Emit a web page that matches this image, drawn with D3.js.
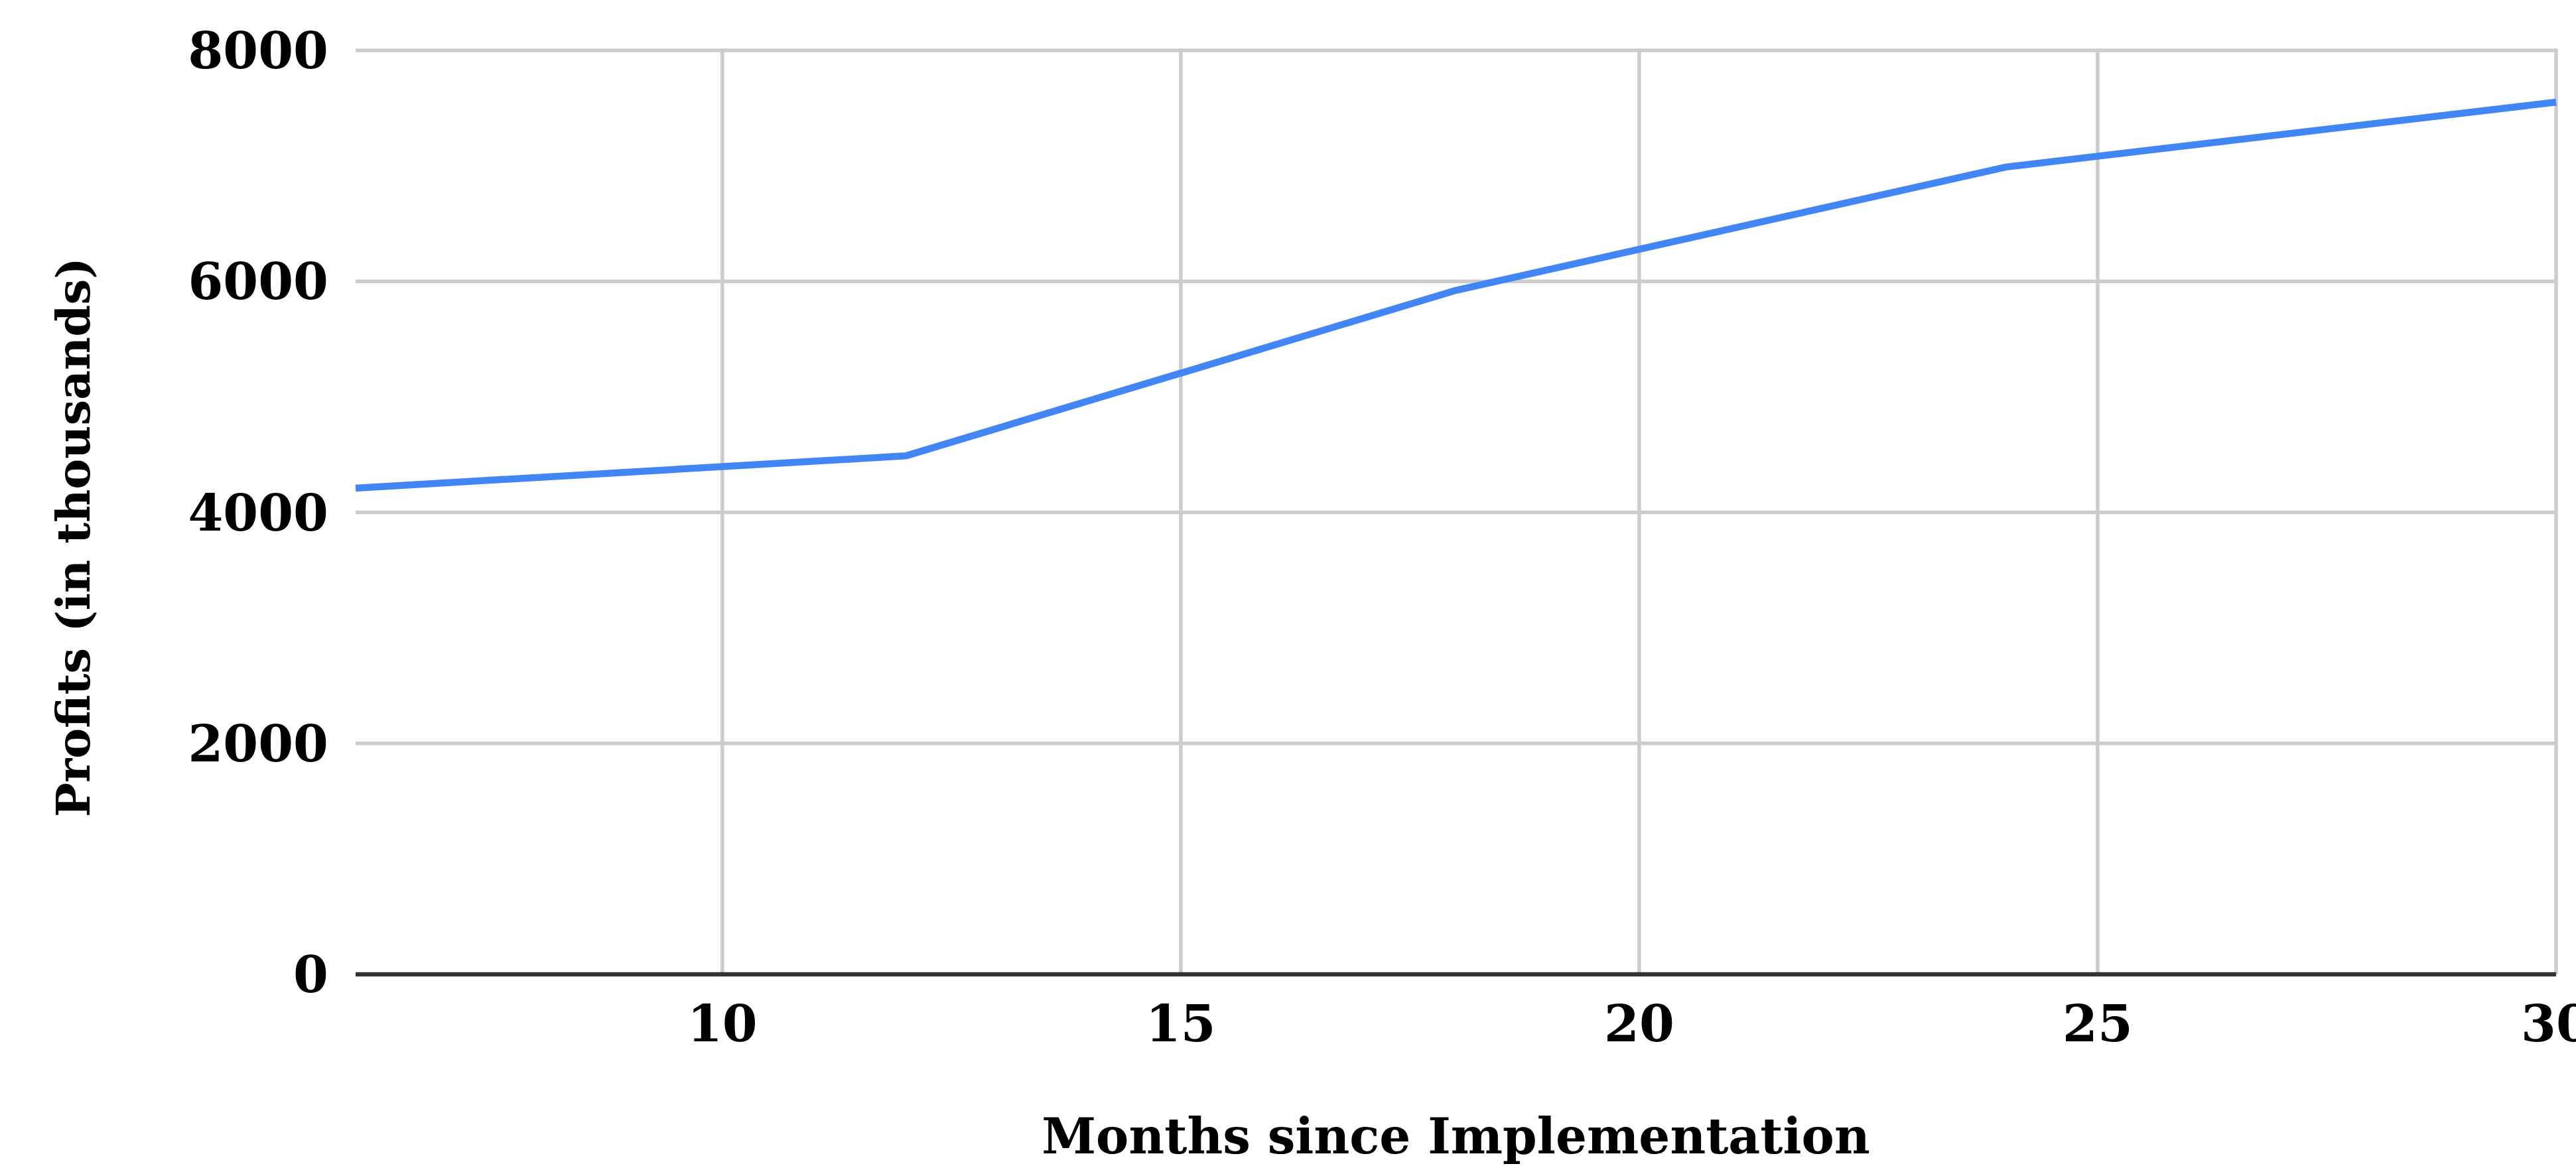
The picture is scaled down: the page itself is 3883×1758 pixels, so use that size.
<!DOCTYPE html>
<html>
<head>
<meta charset="utf-8">
<script src="https://cdn.jsdelivr.net/npm/d3@7"></script>
<style>
  html, body { margin: 0; padding: 0; background: #ffffff; }
  svg { display: block; }
  text { font-family: "DejaVu Serif", "Liberation Serif", serif; font-weight: bold; fill: #000; }
</style>
</head>
<body>
<script>
// Profit trend after implementation
const months = [6, 12, 18, 24, 30];
const profits = [4210, 4489, 5922, 6990, 7552];
const xTicks = [10, 15, 20, 25, 30];
const yTicks = [0, 2000, 4000, 6000, 8000];
const xTitle = "Months since Implementation";
const yTitle = "Profits (in thousands)";

const W = 3883, H = 1758;
const margin = { left: 536, right: 30, top: 76, bottom: 289 };

const svg = d3.select("body").append("svg")
  .attr("width", W).attr("height", H);

svg.append("rect").attr("width", W).attr("height", H).attr("fill", "#fff");

const x = d3.scaleLinear().domain([6, 30]).range([margin.left, W - margin.right]);
const y = d3.scaleLinear().domain([0, 8000]).range([H - margin.bottom, margin.top]);

// horizontal gridlines
svg.append("g")
  .selectAll("line")
  .data(yTicks.filter(d => d > 0))
  .join("line")
  .attr("x1", x.range()[0]).attr("x2", x.range()[1])
  .attr("y1", d => y(d)).attr("y2", d => y(d))
  .attr("stroke", "#cccccc").attr("stroke-width", 5.5);

// vertical gridlines
svg.append("g")
  .selectAll("line")
  .data(xTicks)
  .join("line")
  .attr("x1", d => x(d)).attr("x2", d => x(d))
  .attr("y1", y(8000) - 2.75).attr("y2", y(0))
  .attr("stroke", "#cccccc").attr("stroke-width", 5.5);

// baseline
svg.append("line")
  .attr("x1", x.range()[0]).attr("x2", x.range()[1])
  .attr("y1", y(0)).attr("y2", y(0))
  .attr("stroke", "#333333").attr("stroke-width", 6.5);

// y tick labels
svg.append("g")
  .selectAll("text")
  .data(yTicks)
  .join("text")
  .attr("x", 495)
  .attr("y", d => y(d) + 27)
  .attr("text-anchor", "end")
  .attr("font-size", 76)
  .text(d => d);

// x tick labels
svg.append("g")
  .selectAll("text")
  .data(xTicks)
  .join("text")
  .attr("x", d => x(d))
  .attr("y", 1570)
  .attr("text-anchor", "middle")
  .attr("font-size", 76)
  .text(d => d);

// profit line
const line = d3.line()
  .x((d, i) => x(months[i]))
  .y(d => y(d));

svg.append("path")
  .datum(profits)
  .attr("d", line)
  .attr("fill", "none")
  .attr("stroke", "#4285f4")
  .attr("stroke-width", 10.5)
  .attr("stroke-linejoin", "round");

// axis titles
svg.append("text")
  .attr("x", (x.range()[0] + x.range()[1]) / 2)
  .attr("y", 1739)
  .attr("text-anchor", "middle")
  .attr("font-size", 74)
  .text(xTitle);

svg.append("text")
  .attr("transform", "translate(135,810) rotate(-90)")
  .attr("text-anchor", "middle")
  .attr("font-size", 69)
  .text(yTitle);
</script>
</body>
</html>
